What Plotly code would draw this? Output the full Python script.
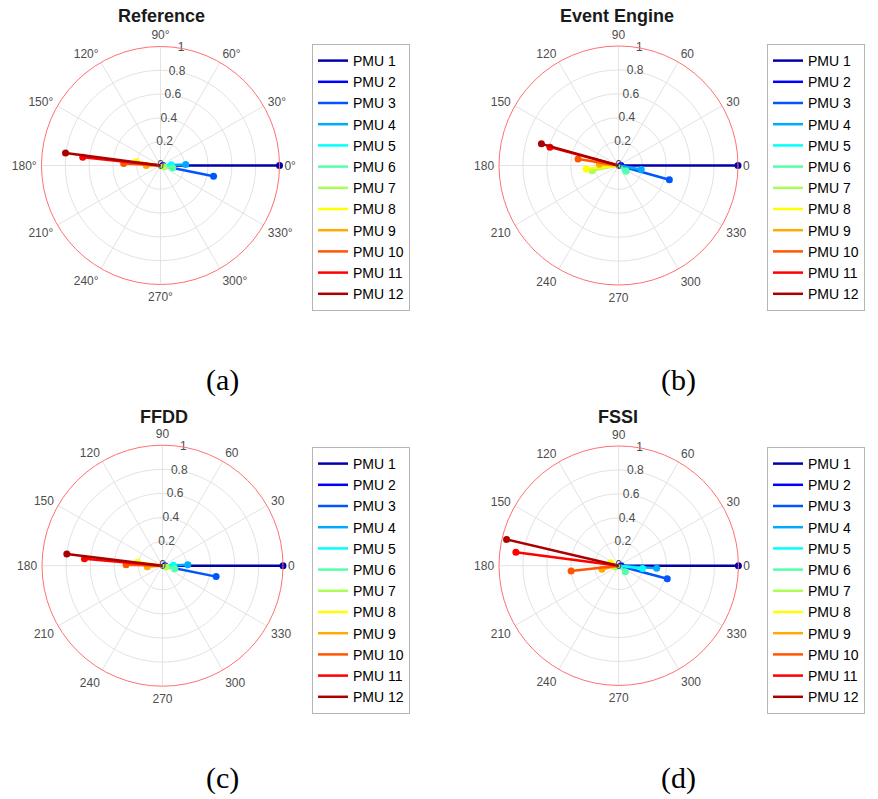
import plotly.graph_objects as go

pmu_names = [f"PMU {i}" for i in range(1, 13)]
pmu_colors = ["#0000aa", "#0000ff", "#0055ff", "#00aaff", "#00ffff", "#55ffaa",
              "#aaff55", "#ffff00", "#ffaa00", "#ff5500", "#ff0000", "#aa0000"]

panel_titles = ["Reference", "Event Engine", "FFDD", "FSSI"]
panel_captions = ["(a)", "(b)", "(c)", "(d)"]

ref_mag = [1.00, 0.02, 0.455, 0.212, 0.090, 0.105, 0.030, 0.205, 0.120, 0.310, 0.657, 0.805]
ref_ang = [0, 0, -11.5, 2, 4, -12, -20, 171, 180, 177, 174, 172.5]

ee_mag = [1.00, 0.02, 0.442, 0.193, 0.075, 0.080, 0.225, 0.272, 0.160, 0.343, 0.594, 0.670]
ee_ang = [0, 0, -15.6, -10, -35, -37, 191, 186, 176, 171, 165, 164.3]

ffdd_mag = [1.00, 0.02, 0.454, 0.210, 0.090, 0.105, 0.030, 0.210, 0.127, 0.302, 0.650, 0.800]
ffdd_ang = [0, 0, -11.5, 2, 3, -14, -20, 172, 184, 178.5, 175, 173]

fssi_mag = [1.00, 0.02, 0.420, 0.318, 0.200, 0.075, 0.030, 0.073, 0.143, 0.400, 0.866, 0.962]
fssi_ang = [0, 0, -15, -4, -6.5, -42, 200, 160, 192, 186.4, 172.6, 166.8]

r_ticks = [0.2, 0.4, 0.6, 0.8, 1.0]
r_tick_text = ["0.2", "0.4", "0.6", "0.8", "1"]
theta_ticks = list(range(0, 360, 30))

panels = [(ref_mag, ref_ang), (ee_mag, ee_ang), (ffdd_mag, ffdd_ang), (fssi_mag, fssi_ang)]

W, H = 878, 799
# circle centres / radii (pixels)
centers = [(160.5, 165.5, 119), (618.5, 165.5, 119.5), (162.5, 565.7, 120.5), (618.7, 565.7, 119.7)]
legend_pos = [(312, 44), (767, 44), (312, 447), (767, 447)]
title_pos = [(161, 16), (617, 16), (164, 417), (618, 417)]
caption_pos = [(222, 380), (678, 380), (222, 778), (678, 778)]

fig = go.Figure()
layout = dict(width=W, height=H, margin=dict(l=0, r=0, t=0, b=0),
              paper_bgcolor="white", plot_bgcolor="white", annotations=[])

grey = "#4d4d4d"
for p, (mags, angs) in enumerate(panels):
    sp = "polar" if p == 0 else f"polar{p+1}"
    lg = "legend" if p == 0 else f"legend{p+1}"
    for i in range(12):
        fig.add_trace(go.Scatterpolar(
            r=[0, mags[i]], theta=[0, angs[i]], mode="lines",
            line=dict(color=pmu_colors[i], width=2.5), name=pmu_names[i],
            subplot=sp, legend=lg, legendgroup=f"{p}-{i}"))
        fig.add_trace(go.Scatterpolar(
            r=[mags[i]], theta=[angs[i]], mode="markers",
            marker=dict(color=pmu_colors[i], size=7), name=pmu_names[i],
            subplot=sp, legend=lg, legendgroup=f"{p}-{i}", showlegend=False))
    # radial tick labels along the 80 degree ray
    fig.add_trace(go.Scatterpolar(
        r=[0] + r_ticks, theta=[80] * (len(r_ticks) + 1), mode="text",
        text=["0"] + r_tick_text, textposition="middle center",
        textfont=dict(family="Liberation Sans, Arial", size=12, color=grey),
        subplot=sp, showlegend=False, hoverinfo="skip"))

    cx, cy, rad = centers[p]
    ttext = [f"{t}°" for t in theta_ticks] if p == 0 else [str(t) for t in theta_ticks]
    layout[sp] = dict(
        domain=dict(x=[(cx - rad) / W, (cx + rad) / W],
                    y=[1 - (cy + rad) / H, 1 - (cy - rad) / H]),
        bgcolor="white",
        radialaxis=dict(range=[0, 1], tickvals=r_ticks, showticklabels=False,
                        ticks="", showline=False, gridcolor="#e3e3e3", gridwidth=1,
                        angle=80),
        angularaxis=dict(tickvals=theta_ticks, ticktext=ttext, direction="counterclockwise",
                         rotation=0, showline=True, linecolor="#ff7070", linewidth=1,
                         gridcolor="#e3e3e3", gridwidth=1, ticks="outside", ticklen=2,
                         tickcolor="rgba(0,0,0,0)",
                         tickfont=dict(family="Liberation Sans, Arial", size=12, color=grey)),
    )
    lx, ly = legend_pos[p]
    layout[lg] = dict(x=lx / W, y=1 - ly / H, xanchor="left", yanchor="top",
                      bgcolor="white", bordercolor="#b5b5b5", borderwidth=1,
                      font=dict(family="Liberation Sans, Arial", size=14, color="black"),
                      itemwidth=30, tracegroupgap=0)
    tx, ty = title_pos[p]
    layout["annotations"].append(dict(
        x=tx / W, y=1 - ty / H, xref="paper", yref="paper", showarrow=False,
        text=f"<b>{panel_titles[p]}</b>", xanchor="center", yanchor="middle",
        font=dict(family="Liberation Sans, Arial", size=18, color="#1a1a1a")))
    qx, qy = caption_pos[p]
    layout["annotations"].append(dict(
        x=qx / W, y=1 - qy / H, xref="paper", yref="paper", showarrow=False,
        text=panel_captions[p], xanchor="center", yanchor="middle",
        font=dict(family="Liberation Serif, Times New Roman", size=30, color="black")))

fig.update_layout(**layout)
fig.write_html("out.html")
